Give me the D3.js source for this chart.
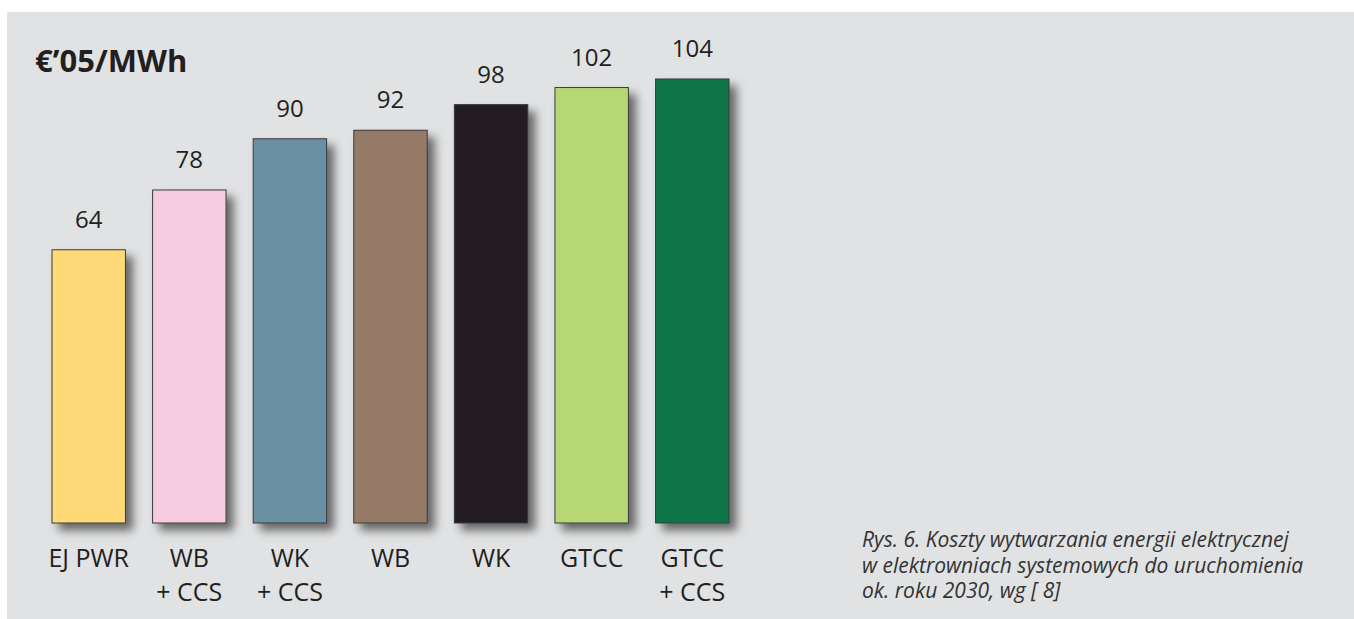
<!DOCTYPE html>
<html>
<head>
<meta charset="utf-8">
<script src="https://cdn.jsdelivr.net/npm/d3@7"></script>
<style>
  body { margin: 0; background: #fff; }
  svg { display: block; }
  text { font-family: "Open Sans", "Noto Sans", sans-serif; fill: #231f20; }
</style>
</head>
<body>
<div id="chart"></div>
<script>
// data
const categories = ["EJ PWR", "WB|+ CCS", "WK|+ CCS", "WB", "WK", "GTCC", "GTCC|+ CCS"];
const costs = [64, 78, 90, 92, 98, 102, 104];
const colors = ["#fedb78", "#f7cbe0", "#6a90a4", "#957a67", "#231f20", "#b7d774", "#107447"];
const unitLabel = "€’05/MWh";
const captionLines = [
  "Rys. 6. Koszty wytwarzania energii elektrycznej",
  "w elektrowniach systemowych do uruchomienia",
  "ok. roku 2030, wg [ 8]"
];

var svgWidth = 1354;
var svgHeight = 619;

var svg = d3.select("#chart")
  .append("svg")
  .attr("width", svgWidth)
  .attr("height", svgHeight);

// grey panel
svg.append("rect")
  .attr("x", 7).attr("y", 12)
  .attr("width", svgWidth - 7).attr("height", svgHeight - 12)
  .attr("fill", "#e1e2e3");

// soft drop shadow for bars
var defs = svg.append("defs");
var f = defs.append("filter").attr("id", "shadow")
  .attr("x", "-20%").attr("y", "-10%").attr("width", "160%").attr("height", "130%");
f.append("feDropShadow")
  .attr("dx", 7).attr("dy", 7)
  .attr("stdDeviation", 5)
  .attr("flood-color", "#000")
  .attr("flood-opacity", 0.55);

var x = d3.scaleBand()
  .domain(categories)
  .range([52, 729])
  .paddingInner(0.27)
  .paddingOuter(0);

var y = d3.scaleLinear()
  .domain([0, 104])
  .range([523, 79]);

var data = categories.map((c, i) => ({ cat: c, v: costs[i], color: colors[i] }));

var g = svg.append("g");

g.selectAll("rect.bar")
  .data(data)
  .enter()
  .append("rect")
    .attr("class", "bar")
    .attr("x", d => x(d.cat))
    .attr("y", d => y(d.v))
    .attr("width", x.bandwidth())
    .attr("height", d => y(0) - y(d.v))
    .attr("fill", d => d.color)
    .attr("stroke", "#3a3a3a")
    .attr("stroke-width", 1)
    .attr("filter", "url(#shadow)");

// value labels
g.selectAll("text.val")
  .data(data)
  .enter()
  .append("text")
    .attr("class", "val")
    .attr("x", d => x(d.cat) + x.bandwidth() / 2)
    .attr("y", d => y(d.v) - 22)
    .attr("text-anchor", "middle")
    .style("font-size", "24px")
    .text(d => d.v);

// category labels, one text per line so they stack cleanly
var catLines = [];
data.forEach(d => {
  d.cat.split("|").forEach((ln, i) => catLines.push({ cat: d.cat, line: ln, row: i }));
});

g.selectAll("text.cat")
  .data(catLines)
  .enter()
  .append("text")
    .attr("class", "cat")
    .attr("x", d => x(d.cat) + x.bandwidth() / 2)
    .attr("y", d => 567 + d.row * 34)
    .attr("text-anchor", "middle")
    .style("font-size", "25px")
    .text(d => d.line);

// unit title
svg.append("text")
  .attr("x", 35)
  .attr("y", 72)
  .style("font-size", "31px")
  .style("font-weight", "bold")
  .text(unitLabel);

// caption
svg.append("g").selectAll("text")
  .data(captionLines)
  .enter()
  .append("text")
    .attr("x", 862)
    .attr("y", (d, i) => 547 + i * 25.5)
    .style("font-size", "21px")
    .style("font-style", "italic")
    .style("fill", "#333")
    .text(d => d);
</script>
</body>
</html>
